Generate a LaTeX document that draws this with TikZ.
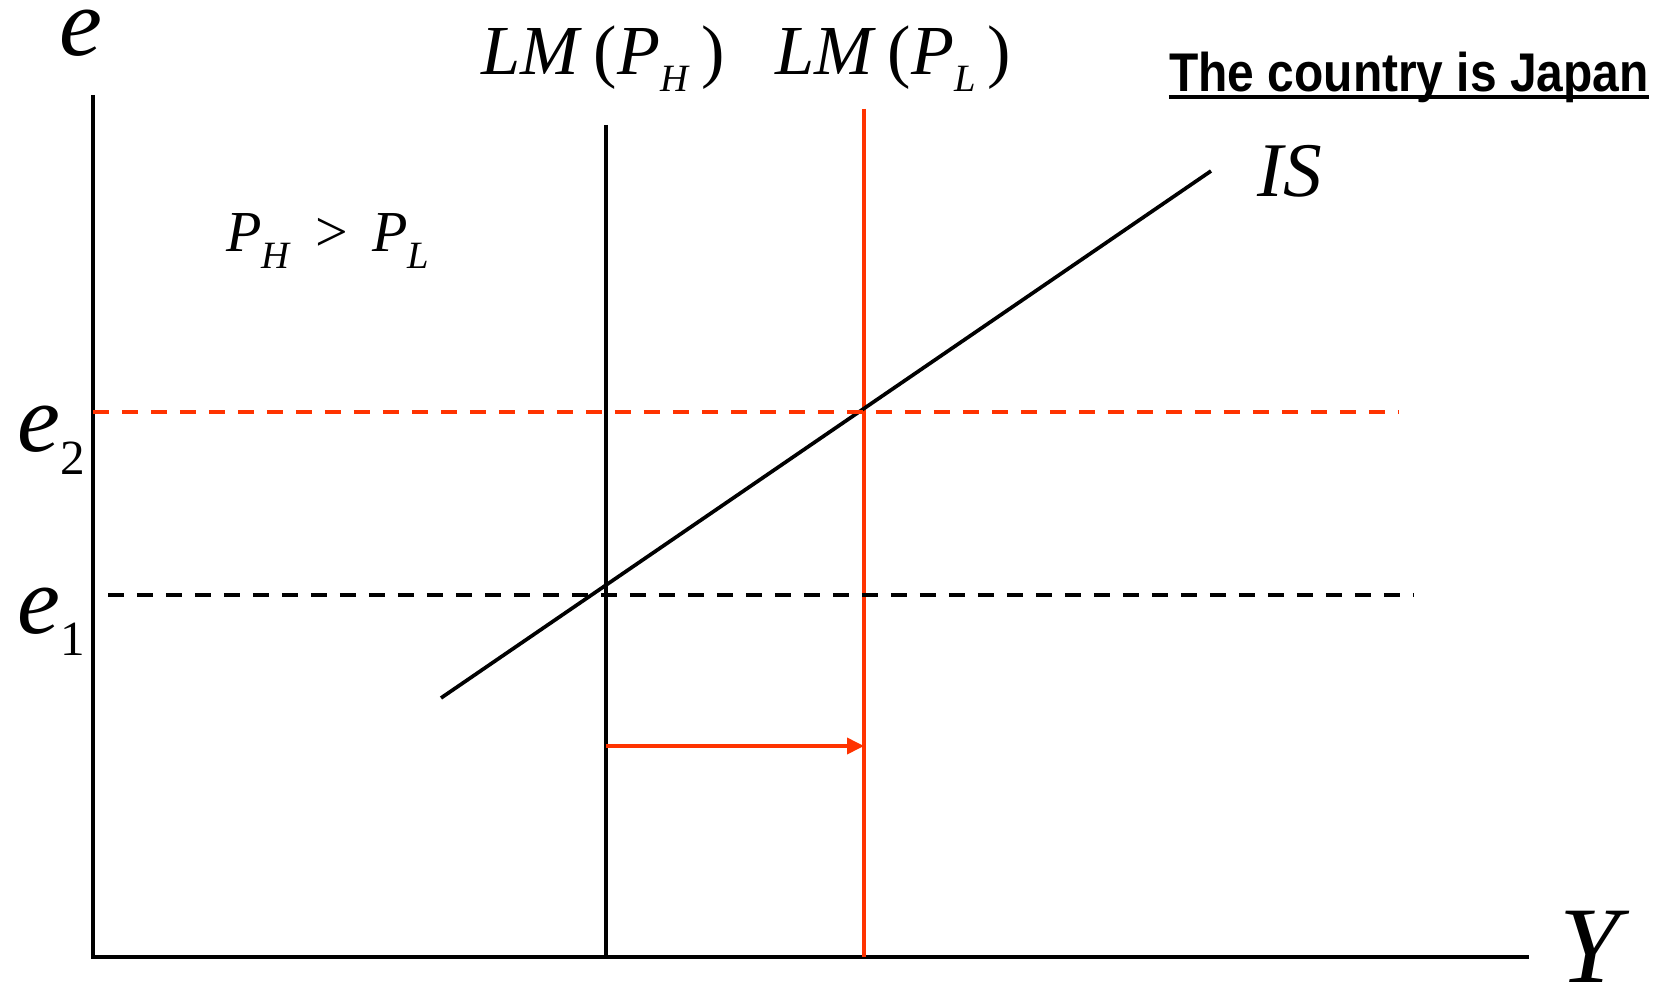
\documentclass[tikz,border=0pt]{standalone}
\usepackage{fontspec}
\setmainfont{Liberation Serif}
\newfontfamily\labelsans{Liberation Sans}
\definecolor{ShiftRed}{HTML}{FF3300}
\usetikzlibrary{arrows.meta,positioning}
\newcommand{\lowsub}[1]{\raisebox{-9.5pt}{\fontsize{22}{22}\selectfont\textit{#1}}}

\begin{document}
\begin{tikzpicture}[x=0.02cm,y=-0.02cm,
    axisline/.style={line width=2.2pt},
    curve/.style={line width=2.1pt},
    levelline/.style={line width=2.1pt,dash pattern=on 0.32cm off 0.26cm},
    maths/.style={inner sep=0pt,anchor=base}]
  \useasboundingbox (0,0) rectangle (1659,989);
  % axes
  \coordinate (origin) at (93,957);
  \coordinate (etop) at (93,95);
  \coordinate (yend) at (1529,957);
  \draw[axisline] (etop) -- (origin) -- (yend);
  % LM and IS curves
  \coordinate (lmHtop) at (606,125);
  \coordinate (lmHbot) at (606,957);
  \coordinate (lmLtop) at (864,109);
  \coordinate (lmLbot) at (864,957);
  \coordinate (isLow) at (441,698);
  \coordinate (isHigh) at (1211,171);
  \draw[curve] (lmHtop) -- (lmHbot);
  \draw[curve,ShiftRed] (lmLtop) -- (lmLbot);
  \draw[curve] (isLow) -- (isHigh);
  % exchange rate levels
  \coordinate (etwoA) at (93,412);
  \coordinate (etwoB) at (1399,412);
  \coordinate (eoneA) at (108,595);
  \coordinate (eoneB) at (1413,595);
  \draw[levelline,ShiftRed] (etwoA) -- (etwoB);
  \draw[levelline] (eoneA) -- (eoneB);
  % shift of LM
  \coordinate (shiftA) at (606,746);
  \coordinate (shiftB) at (864,746);
  \draw[curve,ShiftRed,-{Triangle[length=0.34cm,width=0.32cm]}] (shiftA) -- (shiftB);
  % labels
  \node[maths,font=\fontsize{55}{55}\selectfont] (elabel) at (81,56) {\textit{e}};
  \node[maths,anchor=base west,font=\fontsize{55}{55}\selectfont] (etwo) at (17,452)
    {\textit{e}\raisebox{-13pt}{\fontsize{28}{28}\selectfont 2}};
  \node[maths,anchor=base west,font=\fontsize{55}{55}\selectfont] (eone) at (17,633)
    {\textit{e}\raisebox{-13pt}{\fontsize{28}{28}\selectfont 1}};
  \node[maths,font=\fontsize{40}{40}\selectfont] (lmHlabel) at (603,75)
    {\textit{LM}\,(\textit{P}\lowsub{H}\,)};
  \node[maths,font=\fontsize{40}{40}\selectfont] (lmLlabel) at (893,75)
    {\textit{LM}\,(\textit{P}\lowsub{L}\,)};
  \node[maths,font=\fontsize{44}{44}\selectfont] (islabel) at (1290,197) {\textit{IS}};
  \node[maths,anchor=base west,font=\fontsize{33}{33}\selectfont] (order) at (226,252)
    {\textit{P}\lowsub{H} \,>\, \textit{P}\lowsub{L}};
  \node[maths,font=\fontsize{62}{62}\selectfont] (ylabel) at (1595,982) {\textit{Y}};
  \node[maths,anchor=base east,xscale=0.88,font=\labelsans\bfseries\fontsize{31}{31}\selectfont] (japan) at (1649,92)
    {The country is Japan};
  \draw[line width=2pt] ([yshift=-0.1cm]japan.base west) -- ([yshift=-0.1cm]japan.base east);
\end{tikzpicture}
\end{document}
